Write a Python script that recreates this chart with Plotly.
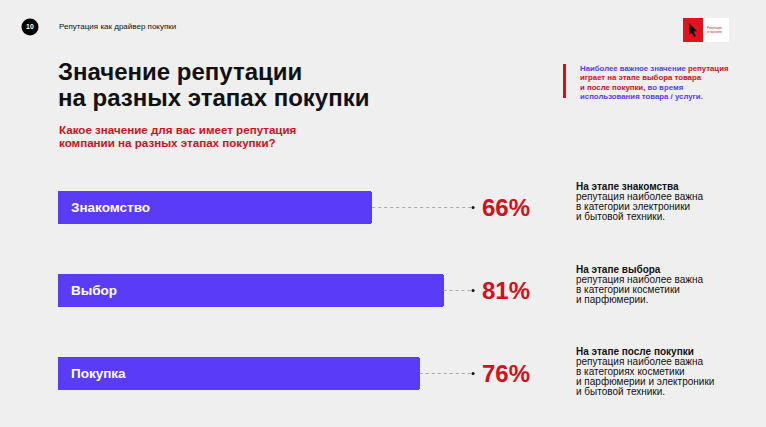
import plotly.graph_objects as go

# ---------------- data ----------------
stages = ["Знакомство", "Выбор", "Покупка"]
values = [66, 81, 76]
notes_bold = ["На этапе знакомства", "На этапе выбора", "На этапе после покупки"]
notes_rest = [
    ["репутация наиболее важна", "в категории электроники", "и бытовой техники."],
    ["репутация наиболее важна", "в категории косметики", "и парфюмерии."],
    ["репутация наиболее важна", "в категориях косметики", "и парфюмерии и электроники", "и бытовой техники."],
]
page_no = "10"
header = "Репутация как драйвер покупки"
title_lines = ["Значение репутации", "на разных этапах покупки"]
question_lines = ["Какое значение для вас имеет репутация", "компании на разных этапах покупки?"]

# ---------------- style ----------------
W, H = 766, 427
BG = "#efefef"
BAR = "#5a3cf8"
RED = "#d3101c"
BLUE = "#5a3cf8"
INK = "#111111"
FONT = "Liberation Sans, Arial, sans-serif"
LEADER_END = 87.2  # x-axis units, where dotted leaders stop


def px(x):
    return x / W


def py(y):
    return 1 - y / H


fig = go.Figure()

fig.add_trace(go.Bar(
    y=stages, x=values, orientation="h",
    marker=dict(color=BAR, cornerradius=3, line=dict(width=0)),
    width=0.4, hoverinfo="skip", showlegend=False,
))

# dotted leaders
for s, v in zip(stages, values):
    fig.add_trace(go.Scatter(
        x=[v, LEADER_END], y=[s, s], mode="lines",
        line=dict(color="#a8a8a8", width=1, dash="dot"),
        hoverinfo="skip", showlegend=False,
    ))
    fig.add_trace(go.Scatter(
        x=[LEADER_END], y=[s], mode="markers",
        marker=dict(color="#111111", size=3),
        hoverinfo="skip", showlegend=False,
    ))

ann = []
shapes = []

# bar labels and percentages
for s, v in zip(stages, values):
    ann.append(dict(x=0, y=s, xref="x", yref="y", xanchor="left", yanchor="middle",
                    xshift=11, text=f"<b>{s}</b>", showarrow=False,
                    font=dict(family=FONT, size=13.5, color="white")))
    ann.append(dict(x=px(480), y=s, xref="paper", yref="y", xanchor="left", yanchor="middle",
                    text=f"<b>{v}%</b>", showarrow=False,
                    font=dict(family=FONT, size=24, color=RED)))

# right notes
note_tops = [186, 269, 351]
for top, b, rest in zip(note_tops, notes_bold, notes_rest):
    lines = [f"<b>{b}</b>"] + rest
    for i, t in enumerate(lines):
        ann.append(dict(x=px(574), y=py(top + i * 10), xref="paper", yref="paper",
                        xanchor="left", yanchor="middle", text=t, showarrow=False,
                        font=dict(family=FONT, size=10, color=INK)))

# header
shapes.append(dict(type="circle", xref="paper", yref="paper",
                   x0=px(21.5), x1=px(38.5), y0=py(35.5), y1=py(18.5),
                   fillcolor="#000000", line=dict(width=0)))
ann.append(dict(x=px(30), y=py(27), xref="paper", yref="paper", xanchor="center",
                yanchor="middle", text=f"<b>{page_no}</b>", showarrow=False,
                font=dict(family=FONT, size=7, color="white")))
ann.append(dict(x=px(57), y=py(27), xref="paper", yref="paper", xanchor="left",
                yanchor="middle", text=header, showarrow=False,
                font=dict(family=FONT, size=8, color=INK)))

# logo
shapes.append(dict(type="rect", xref="paper", yref="paper",
                   x0=px(703), x1=px(729), y0=py(42), y1=py(18),
                   fillcolor="white", line=dict(width=0)))
shapes.append(dict(type="rect", xref="paper", yref="paper",
                   x0=px(683), x1=px(703), y0=py(42), y1=py(18),
                   fillcolor="#e3121b", line=dict(width=0)))
ann.append(dict(x=px(705), y=py(30), xref="paper", yref="paper", xanchor="left",
                yanchor="middle", text="Репутация<br>и торговля", showarrow=False,
                font=dict(family=FONT, size=3, color=RED)))
shapes.append(dict(type="path", xref="paper", yref="paper",
                   path=(f"M {px(689)} {py(23)} L {px(697)} {py(31)} L {px(693.5)} {py(31.5)} "
                         f"L {px(696)} {py(36)} L {px(694)} {py(37)} L {px(691.5)} {py(32.5)} "
                         f"L {px(689)} {py(35)} Z"),
                   fillcolor="#111111", line=dict(width=0)))

# title
for i, t in enumerate(title_lines):
    ann.append(dict(x=px(56), y=py(71.5 + i * 26), xref="paper", yref="paper",
                    xanchor="left", yanchor="middle", text=f"<b>{t}</b>", showarrow=False,
                    font=dict(family=FONT, size=24, color=INK)))
for i, t in enumerate(question_lines):
    ann.append(dict(x=px(57), y=py(129.5 + i * 13), xref="paper", yref="paper",
                    xanchor="left", yanchor="middle", text=f"<b>{t}</b>", showarrow=False,
                    font=dict(family=FONT, size=11.6, color=RED)))

# right callout box
shapes.append(dict(type="rect", xref="paper", yref="paper",
                   x0=px(563), x1=px(566), y0=py(98), y1=py(64),
                   fillcolor=RED, line=dict(width=0)))
callout = [
    f"<span style='color:{BLUE}'>Наиболее важное значение</span> <span style='color:{RED}'>репутация</span>",
    f"<span style='color:{RED}'>играет на этапе выбора товара</span>",
    f"<span style='color:{RED}'>и после покупки,</span> <span style='color:{BLUE}'>во время</span>",
    f"<span style='color:{BLUE}'>использования товара / услуги.</span>",
]
for i, t in enumerate(callout):
    ann.append(dict(x=px(578), y=py(68.5 + i * 9.3), xref="paper", yref="paper",
                    xanchor="left", yanchor="middle", text=f"<b>{t}</b>", showarrow=False,
                    font=dict(family=FONT, size=7.8, color=BLUE)))

fig.update_layout(
    width=W, height=H,
    margin=dict(l=0, r=0, t=0, b=0),
    paper_bgcolor=BG, plot_bgcolor=BG,
    xaxis=dict(domain=[px(58), px(534)], range=[0, 100], visible=False, fixedrange=True),
    yaxis=dict(domain=[12 / H, 261 / H], type="category", categoryorder="array",
               categoryarray=stages, range=[2.5, -0.5], visible=False, fixedrange=True),
    annotations=ann, shapes=shapes,
    font=dict(family=FONT),
    bargap=0,
)

fig.write_html("out.html")
